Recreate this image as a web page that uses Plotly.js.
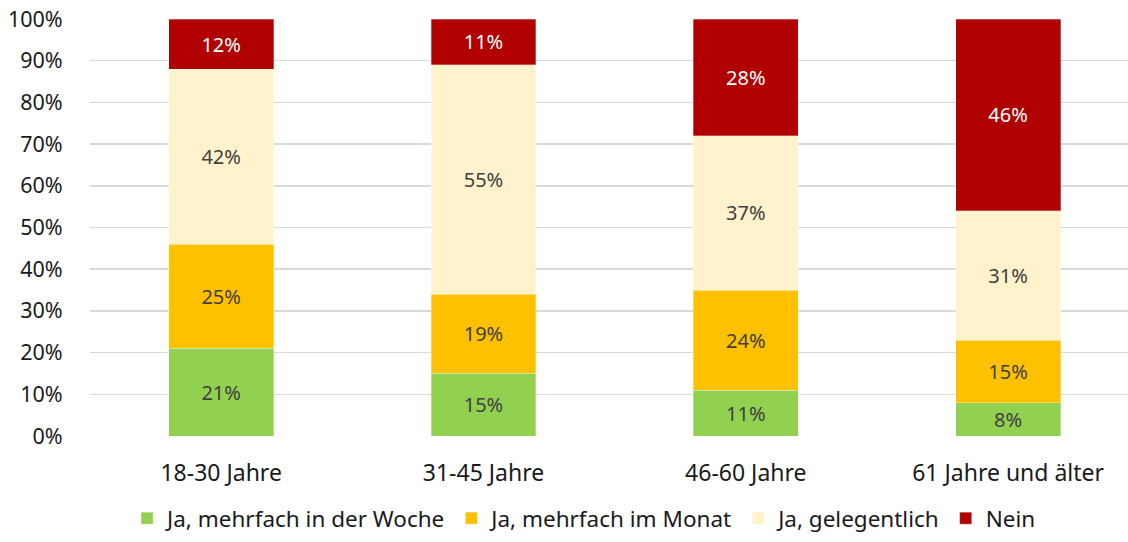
<!DOCTYPE html>
<html>
<head>
<meta charset="utf-8">
<script src="https://cdn.plot.ly/plotly-3.0.1.min.js"></script>
<style>html,body{margin:0;padding:0;background:#fff;}#chart{width:1128px;height:542px;}</style>
</head>
<body>
<div id="chart"></div>
<script>
const categories = ["18-30 Jahre", "31-45 Jahre", "46-60 Jahre", "61 Jahre und älter"];
const seriesNames = ["Ja, mehrfach in der Woche", "Ja, mehrfach im Monat", "Ja, gelegentlich", "Nein"];
const wocheValues = [21, 15, 11, 8];
const monatValues = [25, 19, 24, 15];
const gelegentlichValues = [42, 55, 37, 31];
const neinValues = [12, 11, 28, 46];
const yTickValues = [0, 10, 20, 30, 40, 50, 60, 70, 80, 90, 100];
const yTickLabels = ["0%", "10%", "20%", "30%", "40%", "50%", "60%", "70%", "80%", "90%", "100%"];

const colors = ["#92D050", "#FFC000", "#FFF2CC", "#B00000"];
const textColors = ["#404040", "#404040", "#404040", "#FFFFFF"];
const allValues = [wocheValues, monatValues, gelegentlichValues, neinValues];
const FONT = "'Noto Sans', 'Open Sans', sans-serif";

const traces = allValues.map((vals, i) => ({
  type: "bar",
  name: seriesNames[i],
  x: categories,
  y: vals,
  width: 0.4,
  marker: {color: colors[i], line: {color: "rgba(255,255,255,0.6)", width: 0.5}},
  text: vals.map(v => v + "%"),
  textposition: "inside",
  insidetextanchor: "middle",
  textangle: 0,
  textfont: {family: FONT, size: 20, color: textColors[i]},
  hoverinfo: "x+y+name"
}));

const layout = {
  width: 1128,
  height: 542,
  barmode: "stack",
  paper_bgcolor: "#fff",
  plot_bgcolor: "#fff",
  margin: {l: 90, r: 0, t: 19, b: 106},
  font: {family: FONT, size: 23, color: "#1a1a1a"},
  showlegend: true,
  legend: {
    orientation: "h",
    x: 0.476, xanchor: "center",
    y: -0.198, yanchor: "middle",
    font: {family: FONT, size: 22.5, color: "#1a1a1a"},
    traceorder: "normal",
    itemwidth: 30
  },
  xaxis: {
    type: "category",
    range: [-0.5, 3.457],
    showgrid: false,
    zeroline: false,
    showline: false,
    ticks: "outside",
    ticklen: 16,
    tickcolor: "rgba(0,0,0,0)",
    tickfont: {family: FONT, size: 23, color: "#1a1a1a"}
  },
  yaxis: {
    range: [0, 100],
    tickvals: yTickValues,
    ticktext: yTickLabels,
    showgrid: true,
    gridcolor: "#d9d9d9",
    gridwidth: 1.5,
    zeroline: false,
    showline: false,
    ticks: "outside",
    ticklen: 22,
    tickcolor: "rgba(0,0,0,0)",
    tickfont: {family: FONT, size: 21.5, color: "#1a1a1a"}
  }
};

Plotly.newPlot("chart", traces, layout, {displayModeBar: false, staticPlot: true});
</script>
</body>
</html>
